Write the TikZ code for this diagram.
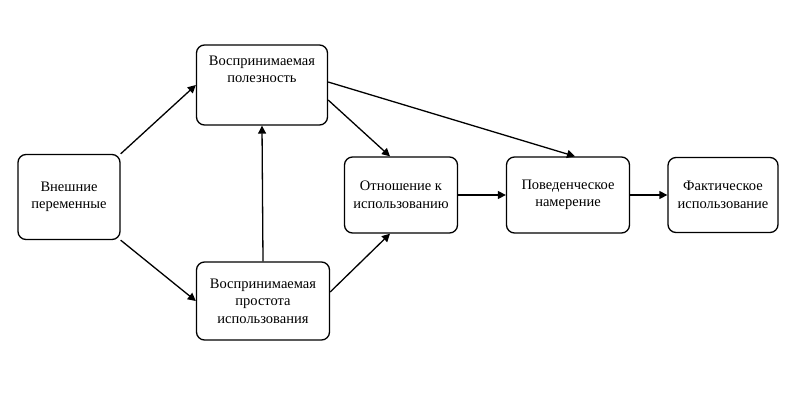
\documentclass[tikz,border=0pt]{standalone}
\usepackage{fontspec}
\setmainfont{Liberation Serif}
\usetikzlibrary{arrows.meta}
\begin{document}
\begin{tikzpicture}[x=1pt,y=-1pt,
  box/.style={draw,line width=1.3pt,rounded corners=8pt,align=center,font=\fontsize{14.5}{17.5}\selectfont,inner sep=0pt},
  arr/.style={line width=1.3pt,-{Triangle[length=8pt,width=8pt]}}]
\useasboundingbox (0,0) rectangle (800,400);
\node[box,minimum width=102pt,minimum height=85pt] (ext) at (69,197) {Внешние\\переменные};
\node[box,minimum width=131pt,minimum height=80pt] (pu) at (262,85) {Воспринимаемая\\полезность\\[14pt]};
\node[box,minimum width=133pt,minimum height=78pt] (peou) at (263,301) {Воспринимаемая\\простота\\использования};
\node[box,minimum width=113pt,minimum height=76pt] (att) at (401,195) {Отношение к\\использованию};
\node[box,minimum width=123pt,minimum height=76pt] (bi) at (568,195) {Поведенческое\\намерение};
\node[box,minimum width=110pt,minimum height=75pt] (au) at (723,195) {Фактическое\\использование};
\draw[arr] (ext.north east) -- (pu.west);
\draw[arr] (ext.south east) -- (peou.west);
\draw[arr] (peou.north) -- (pu.south);
\draw[arr] ([yshift=-15pt]pu.east) -- ([xshift=-11pt]att.north);
\draw[arr] ([yshift=3pt]pu.east) -- ([xshift=7pt]bi.north);
\draw[arr] ([yshift=9pt]peou.east) -- ([xshift=-11pt]att.south);
\draw[arr] (att.east) -- (bi.west);
\draw[arr] (bi.east) -- (au.west);
\end{tikzpicture}
\end{document}
